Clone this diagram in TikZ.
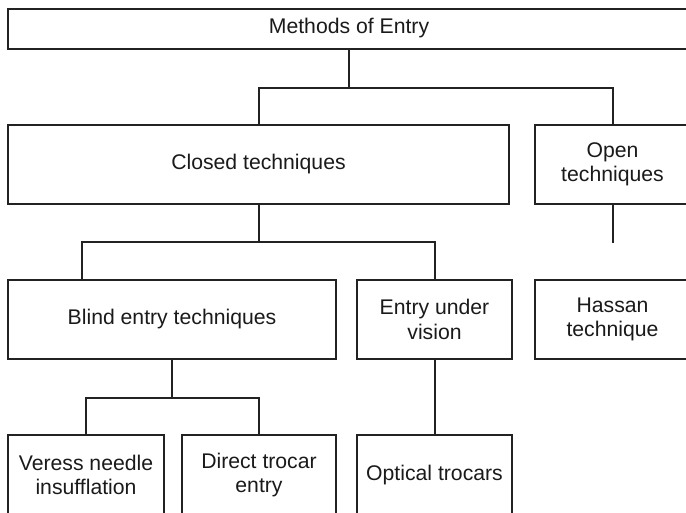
\documentclass[tikz,border=0pt]{standalone}
\usepackage{fontspec}
\setmainfont{Liberation Sans}
\usepackage{xcolor}
\usepackage{tikz}

\definecolor{linegray}{HTML}{222222}
\definecolor{textgray}{HTML}{1A1A1A}

\begin{document}
\begin{tikzpicture}[
        x=1pt, y=-1pt,
        box/.style={rectangle, draw=linegray, line width=2pt, fill=white, inner sep=0pt, align=center, text=textgray, font=\fontsize{21.2}{24.5}\selectfont},
        link/.style={draw=linegray, line width=2pt}
    ]
    
        \clip (0,0) rectangle (686,512);
        
        % Top level
        \node[box, minimum width=682pt, minimum height=40pt] (methods) at (349,28.5) {Methods of Entry};
        
        % Second level
        \node[box, minimum width=501pt, minimum height=79pt] (closed) at (258.5,164.5) {Closed techniques};
        \node[box, minimum width=155pt, minimum height=79pt] (open) at (612.5,164.5) {Open\\techniques};
        
        % Third level
        \node[box, minimum width=328pt, minimum height=79pt] (blind) at (172,319.5) {Blind entry techniques};
        \node[box, minimum width=155pt, minimum height=79pt] (vision) at (434.5,319.5) {Entry under\\vision};
        \node[box, minimum width=155pt, minimum height=79pt] (hassan) at (612.5,319.5) {Hassan\\technique};
        
        % Bottom level
        \node[box, minimum width=156pt, minimum height=80pt] (veress) at (86,475) {Veress needle\\insufflation};
        \node[box, minimum width=154pt, minimum height=80pt] (direct) at (259,475) {Direct trocar\\entry};
        \node[box, minimum width=155pt, minimum height=80pt] (optical) at (434.5,475) {Optical trocars};
        
        \coordinate (openend) at ([yshift=-38pt]open.south);
        
        % Connections
        \draw[link] (methods.south) -- ++(0,38.5) -| (closed.north);
        \draw[link] (methods.south) -- ++(0,38.5) -| (open.north);
        \draw[link] (closed.south) -- ++(0,36.5) -| ([xshift=75pt]blind.north west);
        \draw[link] (closed.south) -- ++(0,36.5) -| (vision.north);
        \draw[link] (open.south) -- (openend);
        \draw[link] (blind.south) -- ++(0,38) -| (veress.north);
        \draw[link] (blind.south) -- ++(0,38) -| (direct.north);
        \draw[link] (vision.south) -- (optical.north);
        
    \end{tikzpicture}
\end{document}
